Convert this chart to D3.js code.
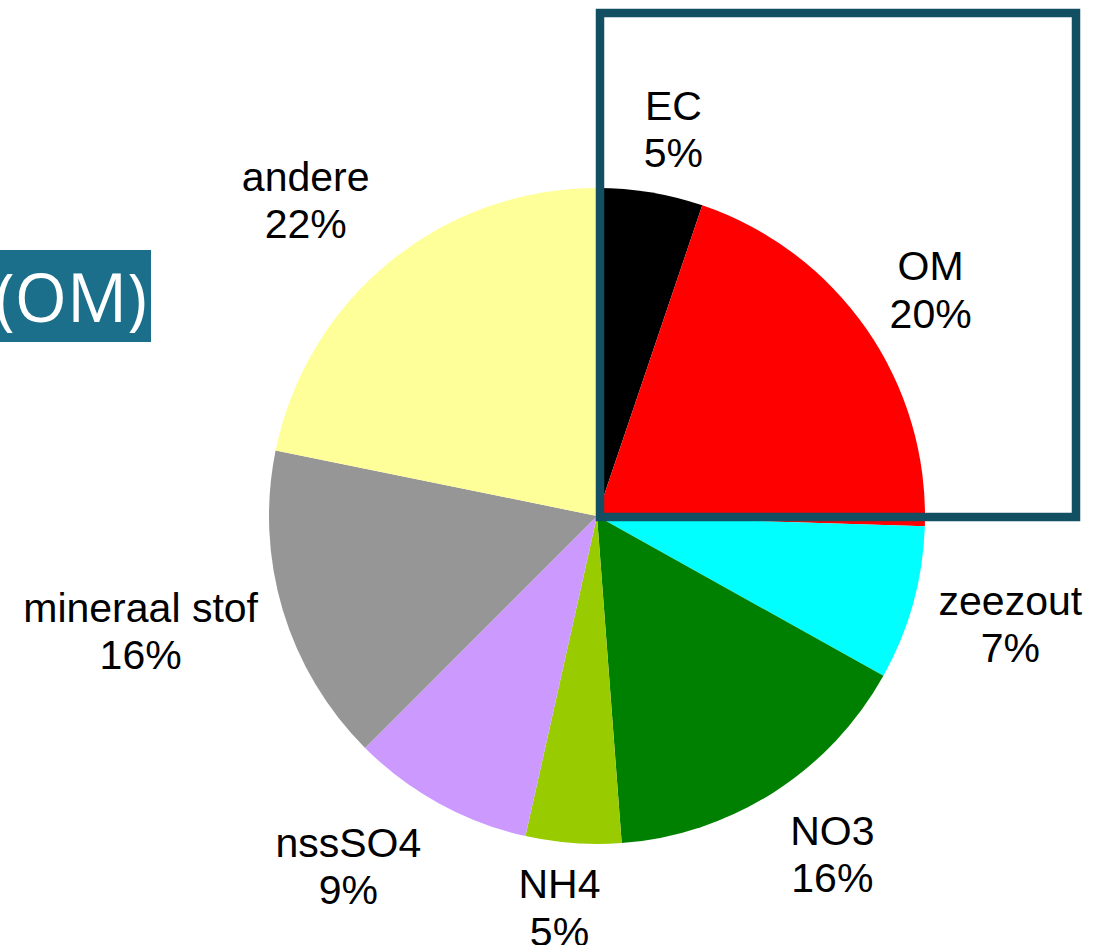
<!DOCTYPE html>
<html>
<head>
<meta charset="utf-8">
<script src="https://cdn.jsdelivr.net/npm/d3@7"></script>
<style>
  body { margin: 0; background: #fff; }
  svg { display: block; }
</style>
</head>
<body>
<svg id="chart" width="1102" height="945"></svg>
<script>
// components of fine dust, clockwise from 12 o'clock
var labels = ["EC", "OM", "zeezout", "NO3", "NH4", "nssSO4", "mineraal stof", "andere"];
var shares = [5.2, 20.3, 7.6, 15.7, 4.7, 9.0, 15.7, 21.8];
var pctLabels = ["5%", "20%", "7%", "16%", "5%", "9%", "16%", "22%"];
var colors = ["#000000", "#ff0000", "#00ffff", "#008000", "#99cc00", "#cc99ff", "#969696", "#ffff99"];

// small hand tweaks for where the labels were dragged to
var labelNudge = [[14, 0], [9, -3], [3, 3], [22, 7], [-9, 0], [-43, 6], [-5, 2], [-27, -12]];

var cx = 597, cy = 516, r = 328;
var gap = 26, lineH = 47.5, fontSize = 41;

var svg = d3.select("#chart");

var pie = d3.pie().sort(null).value(function(d) { return d; });
var arcs = pie(shares);
var arc = d3.arc().innerRadius(0).outerRadius(r);

var g = svg.append("g").attr("transform", "translate(" + cx + "," + cy + ")");

g.selectAll("path.slice")
  .data(arcs)
  .enter()
  .append("path")
  .attr("class", "slice")
  .attr("d", arc)
  .attr("fill", function(d, i) { return colors[i]; });

// labels outside the pie
var lab = g.selectAll("text.lab")
  .data(arcs)
  .enter()
  .append("text")
  .attr("class", "lab")
  .attr("text-anchor", "middle")
  .style("font-family", "'Liberation Sans', Arial, sans-serif")
  .style("font-size", fontSize + "px")
  .attr("fill", "#000");

lab.append("tspan").attr("x", 0).attr("dy", 0).text(function(d, i) { return labels[i]; });
lab.append("tspan").attr("x", 0).attr("dy", lineH).text(function(d, i) { return pctLabels[i]; });

lab.each(function(d, i) {
  var t = d3.select(this);
  var w = 0;
  t.selectAll("tspan").each(function() { w = Math.max(w, this.getComputedTextLength()); });
  var a = (d.startAngle + d.endAngle) / 2;
  var s = Math.sin(a), c = Math.cos(a);
  var hh = (fontSize * 0.716 + lineH) / 2;
  var mx = (r + gap) * s + (w / 2) * s + labelNudge[i][0];
  var my = -(r + gap) * c - hh * c + labelNudge[i][1];
  // first baseline sits below the block's top by the cap height
  var base = my - hh + fontSize * 0.716;
  t.attr("transform", "translate(" + mx + "," + base + ")");
});

// highlight frame round EC + OM
svg.append("rect")
  .attr("x", 600)
  .attr("y", 13)
  .attr("width", 476)
  .attr("height", 504)
  .attr("fill", "none")
  .attr("stroke", "#124f63")
  .attr("stroke-width", 8.5);

// cut-off title tag on the left
svg.append("rect")
  .attr("x", 0)
  .attr("y", 250)
  .attr("width", 151)
  .attr("height", 92)
  .attr("fill", "#1b6f8b");

svg.append("text")
  .attr("x", 147)
  .attr("y", 322)
  .attr("text-anchor", "end")
  .style("font-family", "'Open Sans', 'Noto Sans', sans-serif")
  .style("font-size", "67px")
  .attr("fill", "#fff")
  .text("(OM)");
</script>
</body>
</html>
